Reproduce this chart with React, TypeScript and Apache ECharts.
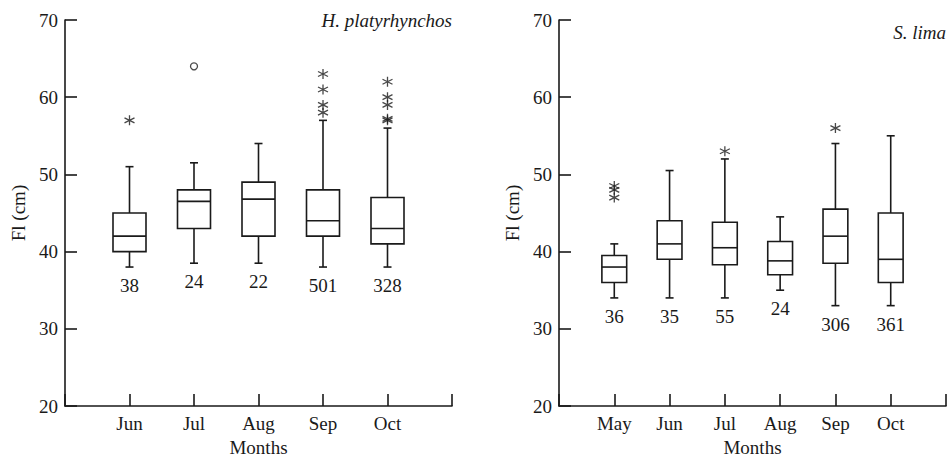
import React, { useEffect, useRef } from "react";
import * as echarts from "echarts";

// ---------- data ----------
const hpMonths = ["Jun", "Jul", "Aug", "Sep", "Oct"];
const hpMin = [38, 38.5, 38.5, 38, 38];
const hpQ1 = [40, 43, 42, 42, 41];
const hpMedian = [42, 46.5, 46.8, 44, 43];
const hpQ3 = [45, 48, 49, 48, 47];
const hpMax = [51, 51.5, 54, 57, 56];
const hpN = [38, 24, 22, 501, 328];
const hpStars: number[][] = [[57], [], [], [58, 59, 61, 63], [57, 57.2, 59, 60, 62]];
const hpCircles: number[][] = [[], [64], [], [], []];

const slMonths = ["May", "Jun", "Jul", "Aug", "Sep", "Oct"];
const slMin = [34, 34, 34, 35, 33, 33];
const slQ1 = [36, 39, 38.3, 37, 38.5, 36];
const slMedian = [38, 41, 40.5, 38.8, 42, 39];
const slQ3 = [39.5, 44, 43.8, 41.3, 45.5, 45];
const slMax = [41, 50.5, 52, 44.5, 54, 55];
const slN = [36, 35, 55, 24, 306, 361];
const slStars: number[][] = [[47, 48, 48.5], [], [53], [], [56], []];

const yTicks = { min: 20, max: 70, interval: 10 };

// ---------- styling ----------
const INK = "#1a1a1a";
const FONT = '"Liberation Serif", "Times New Roman", serif';
const FS = 19;
const STAR = "path://M5 0L5 10M0.67 2.5L9.33 7.5M0.67 7.5L9.33 2.5";

function boxData(min: number[], q1: number[], med: number[], q3: number[], max: number[], n: number[]) {
  return min.map((_, i) => [i + 1, min[i], q1[i], med[i], q3[i], max[i], n[i]]);
}
function outlierData(list: number[][]) {
  const out: number[][] = [];
  list.forEach((vals, i) => vals.forEach((v) => out.push([i + 1, v])));
  return out;
}

function makeRender(halfW: number, capHalf: number) {
  return (_params: any, api: any) => {
    const x = api.value(0);
    const lo = api.coord([x, api.value(1)]);
    const q1 = api.coord([x, api.value(2)]);
    const md = api.coord([x, api.value(3)]);
    const q3 = api.coord([x, api.value(4)]);
    const hi = api.coord([x, api.value(5)]);
    const n = api.value(6);
    const cx = lo[0];
    const style = { stroke: INK, lineWidth: 1.6, fill: "none" };
    return {
      type: "group",
      children: [
        { type: "line", shape: { x1: cx, y1: hi[1], x2: cx, y2: q3[1] }, style },
        { type: "line", shape: { x1: cx, y1: q1[1], x2: cx, y2: lo[1] }, style },
        { type: "line", shape: { x1: cx - capHalf, y1: hi[1], x2: cx + capHalf, y2: hi[1] }, style },
        { type: "line", shape: { x1: cx - capHalf, y1: lo[1], x2: cx + capHalf, y2: lo[1] }, style },
        { type: "rect", shape: { x: cx - halfW, y: q3[1], width: 2 * halfW, height: q1[1] - q3[1] }, style },
        { type: "line", shape: { x1: cx - halfW, y1: md[1], x2: cx + halfW, y2: md[1] }, style },
        {
          type: "text",
          x: cx,
          y: lo[1] + 9,
          style: {
            text: String(n),
            fill: INK,
            fontSize: FS,
            fontFamily: FONT,
            align: "center",
            verticalAlign: "top",
          },
        },
      ],
    };
  };
}

function xAxisFor(gridIndex: number, months: string[]) {
  return {
    gridIndex,
    type: "value",
    min: 0,
    max: months.length + 1,
    interval: 1,
    axisLine: { show: true, lineStyle: { color: INK, width: 1.6 } },
    axisTick: { show: true, inside: true, length: 12, lineStyle: { color: INK, width: 1.6 } },
    axisLabel: {
      formatter: (v: number) => months[v - 1] ?? "",
      color: INK,
      fontFamily: FONT,
      fontSize: FS,
      margin: 8,
    },
    splitLine: { show: false },
    name: "Months",
    nameLocation: "middle",
    nameGap: 28,
    nameTextStyle: { color: INK, fontFamily: FONT, fontSize: FS },
  };
}

function yAxisFor(gridIndex: number) {
  return {
    gridIndex,
    type: "value",
    min: yTicks.min,
    max: yTicks.max,
    interval: yTicks.interval,
    axisLine: { show: true, lineStyle: { color: INK, width: 1.6 } },
    axisTick: { show: true, inside: true, length: 12, lineStyle: { color: INK, width: 1.6 } },
    axisLabel: { color: INK, fontFamily: FONT, fontSize: FS, margin: 7 },
    splitLine: { show: false },
    name: "Fl (cm)",
    nameLocation: "middle",
    nameRotate: 90,
    nameGap: 37,
    nameTextStyle: { color: INK, fontFamily: FONT, fontSize: FS },
  };
}

export default function App() {
  const ref = useRef<HTMLDivElement>(null);
  useEffect(() => {
    if (!ref.current) return;
    const chart = echarts.init(ref.current, undefined, { renderer: "svg" });
    const starStyle = { color: "rgba(0,0,0,0)", borderColor: INK, borderWidth: 1.3 };
    chart.setOption({
      animation: false,
      backgroundColor: "#ffffff",
      title: [
        {
          text: "H. platyrhynchos",
          right: 949 - 452,
          top: 11,
          padding: 0,
          textStyle: { fontFamily: FONT, fontStyle: "italic", fontWeight: "normal", fontSize: FS, color: INK },
        },
        {
          text: "S. lima",
          right: 3,
          top: 23,
          padding: 0,
          textStyle: { fontFamily: FONT, fontStyle: "italic", fontWeight: "normal", fontSize: FS, color: INK },
        },
      ],
      grid: [
        { left: 65, top: 20, width: 387, height: 386 },
        { left: 559, top: 20, width: 387, height: 386 },
      ],
      xAxis: [xAxisFor(0, hpMonths), xAxisFor(1, slMonths)],
      yAxis: [yAxisFor(0), yAxisFor(1)],
      series: [
        {
          type: "custom",
          xAxisIndex: 0,
          yAxisIndex: 0,
          renderItem: makeRender(16.5, 4),
          encode: { x: 0, y: [1, 2, 3, 4, 5] },
          data: boxData(hpMin, hpQ1, hpMedian, hpQ3, hpMax, hpN),
          z: 2,
        },
        {
          type: "scatter",
          xAxisIndex: 0,
          yAxisIndex: 0,
          symbol: STAR,
          symbolSize: 10,
          itemStyle: starStyle,
          data: outlierData(hpStars),
        },
        {
          type: "scatter",
          xAxisIndex: 0,
          yAxisIndex: 0,
          symbol: "circle",
          symbolSize: 7,
          itemStyle: { color: "#fff", borderColor: INK, borderWidth: 1.3 },
          data: outlierData(hpCircles),
        },
        {
          type: "custom",
          xAxisIndex: 1,
          yAxisIndex: 1,
          renderItem: makeRender(12.4, 4),
          encode: { x: 0, y: [1, 2, 3, 4, 5] },
          data: boxData(slMin, slQ1, slMedian, slQ3, slMax, slN),
          z: 2,
        },
        {
          type: "scatter",
          xAxisIndex: 1,
          yAxisIndex: 1,
          symbol: STAR,
          symbolSize: 10,
          itemStyle: starStyle,
          data: outlierData(slStars),
        },
      ],
    });
    return () => chart.dispose();
  }, []);
  return (
    <div
      ref={ref}
      style={{ position: "absolute", left: 0, top: 0, width: 949, height: 467 }}
    />
  );
}
